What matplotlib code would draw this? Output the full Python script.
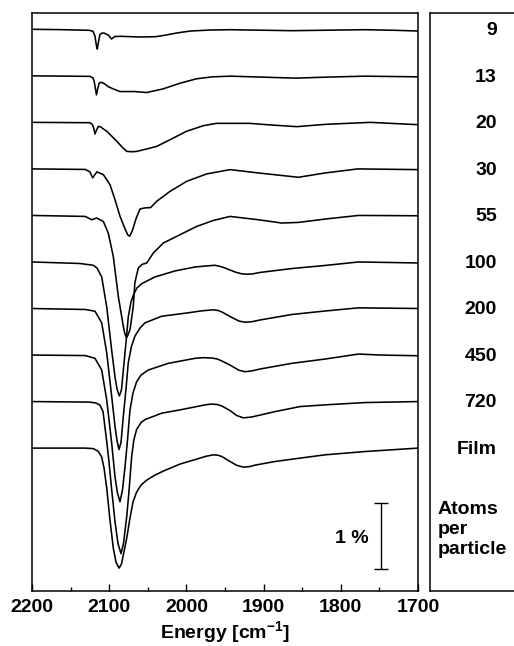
import matplotlib
matplotlib.use('Agg')
import matplotlib.pyplot as plt
import numpy as np

plt.rcParams['font.family'] = ['Liberation Sans', 'DejaVu Sans']
plt.rcParams['mathtext.default'] = 'regular'

# Particle sizes (atoms per particle)
labels = ['9', '13', '20', '30', '55', '100', '200', '450', '720', 'Film']

# Spectra: wavenumber [cm-1] and transmittance change [%] relative to each baseline
wn_9 = [2200, 2164, 2126, 2121, 2118.5, 2116.5, 2115.4, 2114, 2112, 2109, 2106, 2101, 2097, 2093, 2085,
        2060, 2040, 2028, 2012, 1995, 1969, 1943, 1864, 1769, 1730, 1700]
dT_9 = [0, -0.005, -0.015, -0.03, -0.10, -0.25, -0.30, -0.20, -0.08, -0.055, -0.06, -0.09, -0.147, -0.11, -0.106,
        -0.117, -0.112, -0.09, -0.055, -0.026, -0.011, -0.006, -0.021, -0.006, -0.015, -0.026]

wn_13 = [2200, 2125, 2121, 2119.5, 2117.5, 2116.5, 2115, 2113, 2110.6, 2106, 2101.6, 2095, 2086, 2067, 2051.4,
         2030, 2008, 1987, 1966, 1943, 1900, 1859, 1820, 1769, 1700]
dT_13 = [0, -0.008, -0.03, -0.08, -0.22, -0.288, -0.20, -0.11, -0.098, -0.12, -0.162, -0.197, -0.238, -0.238, -0.253,
         -0.197, -0.111, -0.045, -0.015, -0.005, -0.02, -0.035, -0.02, -0.005, -0.015]

wn_20 = [2200, 2125, 2122, 2120, 2118.4, 2116.5, 2114, 2111, 2103, 2090, 2082, 2077, 2070, 2064.5, 2051.4,
         2038.5, 2021, 2000, 1978, 1961, 1918, 1890, 1857, 1820, 1762, 1700]
dT_20 = [0, -0.005, -0.03, -0.09, -0.176, -0.12, -0.06, -0.07, -0.136, -0.288, -0.39, -0.44, -0.445, -0.44, -0.403,
         -0.364, -0.262, -0.136, -0.05, -0.015, -0.015, -0.04, -0.065, -0.03, 0, -0.035]

wn_30 = [2200, 2131, 2125, 2121.4, 2116, 2107.6, 2099, 2092.5, 2086, 2079.5, 2076, 2073.5, 2071, 2069, 2065.4,
         2060, 2053.6, 2046.3, 2038.5, 2021, 1999.6, 1973.7, 1943.5, 1907, 1855, 1820, 1778, 1700]
dT_30 = [0, -0.008, -0.045, -0.136, -0.045, -0.086, -0.238, -0.465, -0.718, -0.909, -1.0, -1.02, -0.96, -0.90, -0.758,
         -0.606, -0.591, -0.586, -0.491, -0.339, -0.188, -0.076, -0.011, -0.061, -0.127, -0.061, 0, -0.011]

wn_55 = [2200, 2131, 2122.7, 2116.2, 2107.6, 2101.2, 2094.7, 2088.2, 2081.7, 2079.6, 2077.3, 2075.3, 2073, 2068.8,
         2066.7, 2062.3, 2057.5, 2051.4, 2042.9, 2029.9, 2008.3, 1986.7, 1965.2, 1943.5, 1907, 1876.6, 1855,
         1820.5, 1777, 1700]
dT_55 = [0, -0.015, -0.065, -0.039, -0.091, -0.267, -0.621, -1.227, -1.682, -1.80, -1.85, -1.80, -1.727, -1.379,
         -1.015, -0.797, -0.742, -0.721, -0.57, -0.418, -0.292, -0.167, -0.076, -0.015, -0.065, -0.115, -0.106,
         -0.055, 0, -0.005]

wn_100 = [2200, 2138, 2120.6, 2115.8, 2109.7, 2103.2, 2096.8, 2092.5, 2089.9, 2086.9, 2084.1, 2081.7, 2078.2,
          2075.3, 2071.8, 2068.8, 2064.1, 2057.9, 2040.7, 2014.8, 1988.9, 1972, 1963, 1957, 1950, 1937, 1929,
          1922, 1914, 1904.7, 1863.6, 1820.5, 1777, 1700]
dT_100 = [0, -0.023, -0.05, -0.091, -0.227, -0.682, -1.338, -1.742, -1.924, -2.03, -1.939, -1.641, -1.212,
          -0.833, -0.606, -0.505, -0.394, -0.329, -0.227, -0.136, -0.076, -0.058, -0.05, -0.065, -0.091, -0.152,
          -0.178, -0.186, -0.18, -0.159, -0.1, -0.053, 0, -0.015]

wn_200 = [2200, 2131, 2118.4, 2109.7, 2103.2, 2096.8, 2092.5, 2089.9, 2087.3, 2084.7, 2081.7, 2078.2, 2075.3,
          2071.2, 2066.7, 2060.1, 2053.6, 2032, 1997.5, 1980, 1965.2, 1959, 1953.9, 1943.5, 1932, 1924, 1915,
          1904.7, 1863.6, 1820.5, 1777, 1700]
dT_200 = [0, -0.015, -0.041, -0.217, -0.671, -1.329, -1.783, -2.0, -2.136, -2.03, -1.632, -1.212, -0.823,
          -0.576, -0.42, -0.295, -0.217, -0.117, -0.065, -0.035, -0.02, -0.03, -0.053, -0.121, -0.19, -0.208, -0.2,
          -0.174, -0.091, -0.038, 0.01, 0]

wn_450 = [2200, 2131, 2118.4, 2109.7, 2103.2, 2096.8, 2092.5, 2089.3, 2086, 2082.8, 2079.5, 2076.3, 2073.1,
          2069.2, 2064.5, 2058.8, 2049.4, 2023.5, 1988.9, 1978, 1967.2, 1960, 1953.9, 1943.5, 1932, 1924, 1915,
          1904.7, 1863.6, 1820.5, 1777, 1749, 1700]
dT_450 = [0, -0.008, -0.05, -0.227, -0.682, -1.333, -1.844, -2.091, -2.223, -2.045, -1.692, -1.288, -0.833,
          -0.576, -0.405, -0.303, -0.227, -0.126, -0.05, -0.04, -0.045, -0.06, -0.091, -0.152, -0.23, -0.253, -0.24,
          -0.212, -0.126, -0.061, 0.015, 0, -0.011]

wn_720 = [2200, 2125, 2117, 2112, 2108, 2103.2, 2100.3, 2096.8, 2092.5, 2088.6, 2084.7, 2081.5, 2077.3, 2074.4,
          2070.9, 2068, 2064.5, 2058.8, 2053.6, 2032, 2008.3, 1986.7, 1976, 1967.2, 1960, 1953.9, 1943.5, 1935,
          1926.3, 1916, 1904.7, 1885.2, 1852.9, 1820.5, 1768.7, 1700]
dT_720 = [0, -0.008, -0.023, -0.053, -0.152, -0.606, -0.909, -1.333, -1.818, -2.152, -2.303, -2.152, -1.742,
          -1.364, -0.833, -0.576, -0.424, -0.318, -0.273, -0.176, -0.126, -0.076, -0.05, -0.038, -0.045, -0.068,
          -0.136, -0.21, -0.247, -0.235, -0.205, -0.152, -0.076, -0.05, -0.015, 0]

wn_film = [2200, 2131, 2120.6, 2114.5, 2109.7, 2106.7, 2103.2, 2099, 2094.7, 2091.2, 2087.3, 2084.1, 2081.5,
           2077.3, 2073.1, 2069.2, 2064.5, 2058.8, 2051.4, 2040.7, 2029.9, 2008.3, 1986.7, 1975, 1965.2, 1959,
           1953.9, 1943.5, 1935, 1926.3, 1918, 1911, 1885.2, 1852.9, 1820.5, 1768.7, 1700]
dT_film = [0, 0, -0.008, -0.045, -0.136, -0.303, -0.606, -1.091, -1.515, -1.727, -1.818, -1.758, -1.606,
           -1.364, -1.061, -0.818, -0.667, -0.561, -0.485, -0.409, -0.348, -0.242, -0.167, -0.125, -0.102, -0.108,
           -0.129, -0.203, -0.26, -0.288, -0.28, -0.258, -0.203, -0.152, -0.102, -0.052, 0]

series = [(wn_9, dT_9), (wn_13, dT_13), (wn_20, dT_20), (wn_30, dT_30), (wn_55, dT_55),
          (wn_100, dT_100), (wn_200, dT_200), (wn_450, dT_450), (wn_720, dT_720), (wn_film, dT_film)]

x_ticks = [2200, 2100, 2000, 1900, 1800, 1700]
step = 0.705  # vertical offset between stacked spectra (%)

W, H = 514, 646
fig = plt.figure(figsize=(W / 100, H / 100), dpi=100)
ax = fig.add_axes([32 / W, 55 / H, 386 / W, 578 / H])
ylim = (-8.51, 0.247)

for i, (wn, dT) in enumerate(series):
    ax.plot(wn, np.array(dT) - i * step, color='black', lw=1.15,
            solid_joinstyle='round', solid_capstyle='round')

FS = 14
ax.set_xlim(2200, 1700)
ax.set_ylim(*ylim)
ax.set_yticks([])
ax.set_xticks(x_ticks)
ax.set_xticks(np.arange(2150, 1700, -100), minor=True)
ax.tick_params(axis='x', which='major', direction='in', length=5, width=1.0, labelsize=FS, pad=6)
ax.tick_params(axis='x', which='minor', direction='in', length=3, width=1.0)
for t in ax.get_xticklabels():
    t.set_fontweight('bold')
for s in ax.spines.values():
    s.set_linewidth(1.1)
ax.set_xlabel('Energy [cm$^{-1}$]', fontsize=FS, fontweight='bold', labelpad=2)

# 1 % scale bar
ax.errorbar([1748], [-7.68], yerr=[0.5], color='black', capsize=4.8, elinewidth=1.0, capthick=1.0, fmt='none')
ax.text(1764, -7.71, '1 %', ha='right', va='center', fontsize=FS, fontweight='bold')

# Right label panel
ax2 = fig.add_axes([430 / W, 55 / H, 110 / W, 578 / H])
ax2.set_xlim(0, 1)
ax2.set_ylim(*ylim)
ax2.set_xticks([])
ax2.set_yticks([])
ax2.spines['right'].set_visible(False)
for s in ax2.spines.values():
    s.set_linewidth(1.1)
for i, lab in enumerate(labels):
    ax2.text(0.609, -i * step - 0.02, lab, ha='right', va='center', fontsize=FS, fontweight='bold')
ax2.text(0.07, -7.58, 'Atoms\nper\nparticle', ha='left', va='center', fontsize=FS, fontweight='bold',
         linespacing=1.25)

fig.savefig('out.png', dpi=100)
